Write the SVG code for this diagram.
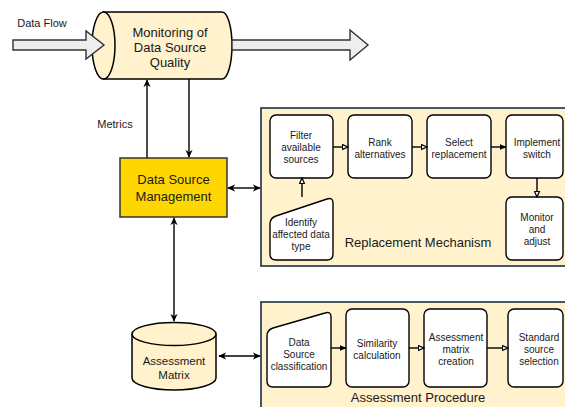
<svg xmlns="http://www.w3.org/2000/svg" width="565" height="407" viewBox="0 0 565 407">
<defs>
<marker id="af" viewBox="0 0 10 10" refX="9" refY="5" markerWidth="8" markerHeight="8" markerUnits="userSpaceOnUse" orient="auto-start-reverse">
<path d="M0,0.5 L10,5 L0,9.5 L3,5 Z" fill="#000"/>
</marker>
<marker id="as" viewBox="0 0 10 10" refX="9" refY="5" markerWidth="7" markerHeight="7" markerUnits="userSpaceOnUse" orient="auto">
<path d="M0,1 L10,5 L0,9 Z" fill="#000"/>
</marker>
<marker id="ao" viewBox="0 0 10 10" refX="9" refY="5" markerWidth="7" markerHeight="7" markerUnits="userSpaceOnUse" orient="auto">
<path d="M1,1.5 L9,5 L1,8.5 Z" fill="#fff" stroke="#000" stroke-width="1.8"/>
</marker>
</defs>
<style>
text{font-family:"Liberation Sans",Arial,sans-serif;fill:#1a1a1a;text-anchor:middle}
.t10{font-size:10px}
.t11{font-size:11px}
.t13{font-size:13px}
.box{fill:#fff;stroke:#000;stroke-width:1.4}
.cont{fill:#fff2cc;stroke:#1a2e44;stroke-width:1.6}
.con{fill:none;stroke:#000;stroke-width:1.4}
.blk{fill:#eeeeee;stroke:#333;stroke-width:1.4}
</style>
<rect width="565" height="407" fill="#fff"/>

<g id="monitoring">
<path d="M103.5,12 L222,12 A10,33.5 0 0 1 222,79 L103.5,79 Z" fill="#fff2cc" stroke="#000" stroke-width="1.5"/>
<ellipse cx="103.5" cy="45.5" rx="11.5" ry="33.5" fill="#fff2cc" stroke="#000" stroke-width="1.5"/>
<text class="t13" x="170" y="37">Monitoring of</text>
<text class="t13" x="170" y="52">Data Source</text>
<text class="t13" x="170" y="67">Quality</text>
</g>

<g id="dataflow-in">
<polygon class="blk" points="13,40 86,40 86,31 104,45 86,59 86,50 13,50"/>
<text class="t11" x="42" y="27">Data Flow</text>
</g>
<g id="dataflow-out">
<polygon class="blk" points="232,40 350,40 350,30 368,45 350,60 350,50 232,50"/>
</g>

<g id="dsm">
<rect x="120" y="158" width="107" height="59" fill="#ffd700" stroke="#333" stroke-width="1.5"/>
<text class="t13" x="173.5" y="184">Data Source</text>
<text class="t13" x="173.5" y="201">Management</text>
</g>

<g id="assessment-matrix">
<path d="M132,334 L132,378 A42,12 0 0 0 216,378 L216,334" fill="#fff2cc" stroke="#000" stroke-width="1.5"/>
<ellipse cx="174" cy="334" rx="42" ry="11.5" fill="#fff2cc" stroke="#000" stroke-width="1.5"/>
<text class="t11" x="174" y="365" style="font-size:11.5px">Assessment</text>
<text class="t11" x="174" y="379" style="font-size:11.5px">Matrix</text>
</g>

<g id="replacement-mechanism">
<rect class="cont" x="261" y="108" width="320" height="158"/>
<text class="t13" x="418" y="247">Replacement Mechanism</text>
</g>
<g id="filter">
<rect class="box" x="270" y="115" width="63" height="63" rx="6"/>
<text class="t10" x="301" y="139">Filter</text>
<text class="t10" x="301" y="151">available</text>
<text class="t10" x="301" y="163">sources</text>
</g>
<g id="rank">
<rect class="box" x="348" y="115" width="64" height="63" rx="6"/>
<text class="t10" x="380" y="146">Rank</text>
<text class="t10" x="380" y="158">alternatives</text>
</g>
<g id="select">
<rect class="box" x="427" y="115" width="64" height="63" rx="6"/>
<text class="t10" x="459" y="146">Select</text>
<text class="t10" x="459" y="158">replacement</text>
</g>
<g id="implement">
<rect class="box" x="506" y="115" width="57" height="63" rx="6"/>
<text class="t10" x="537" y="146">Implement</text>
<text class="t10" x="537" y="158">switch</text>
</g>
<g id="monitor">
<rect class="box" x="506" y="197" width="57" height="63" rx="6"/>
<text class="t10" x="537" y="221">Monitor</text>
<text class="t10" x="537" y="233">and</text>
<text class="t10" x="537" y="245">adjust</text>
</g>
<g id="identify">
<path class="box" d="M276,216 L327,199 Q333,197 333,203 L333,254 Q333,260 327,260 L276,260 Q270,260 270,254 L270,224 Q270,218 276,216 Z"/>
<text class="t10" x="301" y="226">Identify</text>
<text class="t10" x="301" y="238">affected data</text>
<text class="t10" x="301" y="250">type</text>
</g>

<g id="assessment-procedure">
<rect class="cont" x="261" y="302" width="320" height="120"/>
<text class="t13" x="418" y="402">Assessment Procedure</text>
</g>
<g id="classification">
<path class="box" d="M273,328 L325,313 Q331,311 331,317 L331,381 Q331,387 325,387 L273,387 Q267,387 267,381 L267,336 Q267,330 273,328 Z"/>
<text class="t10" x="299" y="346">Data</text>
<text class="t10" x="299" y="358">Source</text>
<text class="t10" x="299" y="370">classification</text>
</g>
<g id="similarity">
<rect class="box" x="346" y="309" width="63" height="78" rx="6"/>
<text class="t10" x="377" y="347">Similarity</text>
<text class="t10" x="377" y="359">calculation</text>
</g>
<g id="matrix-creation">
<rect class="box" x="424" y="309" width="63" height="78" rx="6"/>
<text class="t10" x="456" y="341">Assessment</text>
<text class="t10" x="456" y="353">matrix</text>
<text class="t10" x="456" y="365">creation</text>
</g>
<g id="standard">
<rect class="box" x="508" y="309" width="55" height="78" rx="6"/>
<text class="t10" x="539" y="341">Standard</text>
<text class="t10" x="539" y="353">source</text>
<text class="t10" x="539" y="365">selection</text>
</g>

<g id="connectors">
<line class="con" x1="147" y1="158" x2="147" y2="80" marker-end="url(#af)"/>
<line class="con" x1="189" y1="79" x2="189" y2="157" marker-end="url(#af)"/>
<text class="t11" x="115" y="128">Metrics</text>
<line class="con" x1="228" y1="188" x2="260" y2="188" marker-start="url(#af)" marker-end="url(#af)"/>
<line class="con" x1="174" y1="218" x2="174" y2="321" marker-start="url(#af)" marker-end="url(#af)"/>
<line class="con" x1="219" y1="356" x2="260" y2="356" marker-start="url(#af)" marker-end="url(#af)"/>
<line class="con" x1="333" y1="147" x2="348" y2="147" marker-end="url(#ao)"/>
<line class="con" x1="412" y1="147" x2="427" y2="147" marker-end="url(#ao)"/>
<line class="con" x1="491" y1="147" x2="506" y2="147" marker-end="url(#as)"/>
<line class="con" x1="537" y1="178" x2="537" y2="197" marker-end="url(#ao)"/>
<line class="con" x1="302" y1="197" x2="302" y2="178" marker-end="url(#ao)"/>
<line class="con" x1="331" y1="348" x2="346" y2="348" marker-end="url(#as)"/>
<line class="con" x1="409" y1="348" x2="424" y2="348" marker-end="url(#ao)"/>
<line class="con" x1="487" y1="348" x2="508" y2="348" marker-end="url(#ao)"/>
</g>
</svg>
